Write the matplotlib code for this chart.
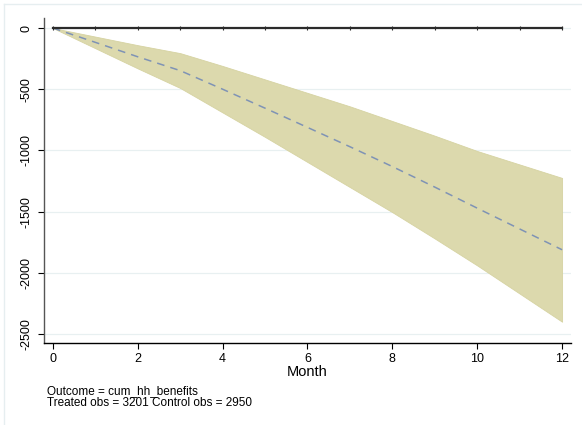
import matplotlib
matplotlib.use("Agg")
import matplotlib.pyplot as plt
from matplotlib.lines import Line2D

months = [0, 1, 2, 3, 4, 5, 6, 7, 8, 9, 10, 11, 12]
estimate = [0, -117, -235, -348, -500, -655, -812, -970, -1132, -1300, -1472, -1642, -1812]
upper = [0, -70, -140, -205, -310, -420, -530, -640, -760, -880, -1005, -1115, -1225]
lower = [0, -165, -330, -490, -690, -890, -1095, -1300, -1505, -1720, -1940, -2170, -2400]
zero = [0] * len(months)
xticks = [0, 2, 4, 6, 8, 10, 12]
yticks = [0, -500, -1000, -1500, -2000, -2500]
xlabel = "Month"
note_lines = ["Outcome = cum_hh_benefits", "Treated obs = 3201 Control obs = 2950"]

plt.rcParams['font.family'] = ['Liberation Sans', 'DejaVu Sans']

fig = plt.figure(figsize=(5.82, 4.25), dpi=100)
W, H = 582, 425
ax = fig.add_axes([44 / W, 1 - 343 / H, (571 - 44) / W, (343 - 18) / H])

fig.lines.append(Line2D([4 / W, 1], [1 - 4 / H, 1 - 4 / H], transform=fig.transFigure,
                        color='#e6eef0', linewidth=1.0))
fig.lines.append(Line2D([4 / W, 4 / W], [0, 1 - 4 / H], transform=fig.transFigure,
                        color='#e6eef0', linewidth=1.0))

ax.fill_between(months, lower, upper, facecolor='#dcd9ad', edgecolor='#d6d3a2',
                linewidth=0.6, zorder=2)
ax.plot(months, estimate, color='#7f93b5', linestyle=(0, (5, 4)), linewidth=1.1, zorder=3)
ax.plot(months, zero, color='#2b2b2b', linewidth=1.6, marker='|', markersize=3,
        markeredgewidth=0.8, zorder=4)

ax.set_xlim(-0.21, 12.21)
ax.set_ylim(-2574, 82)
ax.set_xticks(xticks)
ax.set_yticks(yticks)
ax.set_yticklabels([str(v) for v in yticks], rotation=90, va='center')
ax.tick_params(axis='both', labelsize=9, length=4, width=0.8, colors='black')
ax.tick_params(axis='y', pad=4)
ax.grid(axis='y', color='#e8f0f1', linewidth=0.9, zorder=0)
ax.set_axisbelow(True)
for s in ['top', 'right']:
    ax.spines[s].set_visible(False)
ax.spines['left'].set_color('#555555')
ax.spines['bottom'].set_color('black')
ax.spines['left'].set_linewidth(1.0)
ax.spines['bottom'].set_linewidth(1.0)
ax.set_xlabel(xlabel, fontsize=10.5, labelpad=0)

fig.text(47 / W, 1 - 391 / H, note_lines[0], fontsize=8.5, va='center', ha='left')
fig.text(47 / W, 1 - 403 / H, note_lines[1], fontsize=8.5, va='center', ha='left')

fig.savefig("out.png", dpi=100)
